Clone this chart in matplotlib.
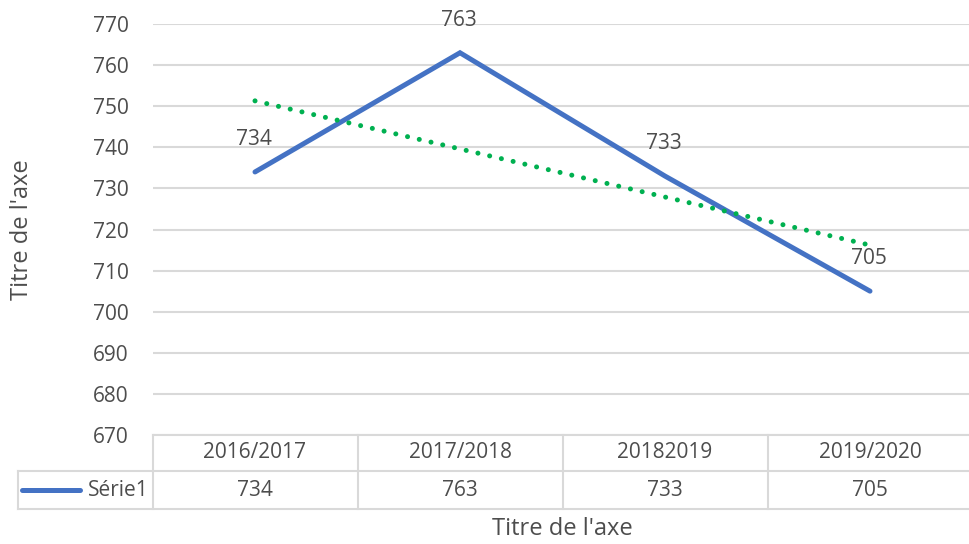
import numpy as np
import matplotlib
matplotlib.use("Agg")
import matplotlib.pyplot as plt
from matplotlib.lines import Line2D

plt.rcParams['font.family'] = ['Open Sans', 'DejaVu Sans']

categories = ["2016/2017", "2017/2018", "20182019", "2019/2020"]
values = [734, 763, 733, 705]
series_name = "Série1"
y_ticks = list(range(670, 771, 10))
axis_title = "Titre de l'axe"

W, H = 969, 544
fig = plt.figure(figsize=(W / 100, H / 100), dpi=100)
# plot area in pixels: x 152.5 -> 972.5, y 24 -> 435
ax = fig.add_axes([152.5 / W, (H - 435) / H, 820 / W, 411 / H])

x = np.arange(1, len(values) + 1)
TXT = '#4d4d4d'
GRID = '#D9D9D9'
FS = 15
FST = 17

ax.set_xlim(0.5, len(values) + 0.5)
ax.set_ylim(y_ticks[0], y_ticks[-1])
ax.set_yticks(y_ticks)
ax.yaxis.grid(True, color=GRID, linewidth=1.5)
ax.set_axisbelow(True)
ax.tick_params(axis='y', length=0, pad=17, labelsize=FS, labelcolor=TXT)
ax.set_xticks([])
for s in ax.spines.values():
    s.set_visible(False)

# series line
ax.plot(x, values, color='#4472C4', linewidth=3.6, solid_capstyle='round',
        solid_joinstyle='miter', zorder=3)

# linear trendline
coef = np.polyfit(x, values, 1)
tx = np.array([x[0], x[-1]])
ax.plot(tx, np.polyval(coef, tx), color='#00B050', linewidth=3.6,
        linestyle=(0, (0.01, 2.4)), dash_capstyle='round', zorder=4)

# data labels
for xi, v in zip(x, values):
    ax.annotate(str(v), (xi, v), xytext=(-1, 23.5), textcoords='offset points',
                ha='center', va='center', fontsize=FS, color=TXT, zorder=5)

# data table
px = 1 / 411.0  # axes fraction per pixel vertically
y_top = 0.0
y_mid = -36 * px
y_bot = -74 * px
x_left_lab = 0.5 - (152.5 - 18) / 205.0
trans = ax.get_xaxis_transform()
lk = dict(color=GRID, linewidth=1.5, transform=trans, clip_on=False)
ax.add_line(Line2D([0.5, len(values) + 0.5], [y_top, y_top], **lk))
ax.add_line(Line2D([x_left_lab, len(values) + 0.5], [y_mid, y_mid], **lk))
ax.add_line(Line2D([x_left_lab, len(values) + 0.5], [y_bot, y_bot], **lk))
ax.add_line(Line2D([x_left_lab, x_left_lab], [y_mid, y_bot], **lk))
for b in np.arange(0.5, len(values) + 1.0, 1.0):
    ax.add_line(Line2D([b, b], [y_top, y_bot], **lk))

for xi, c, v in zip(x, categories, values):
    ax.text(xi, (y_top + y_mid) / 2, c, transform=trans, ha='center', va='center',
            fontsize=FS, color=TXT)
    ax.text(xi, (y_mid + y_bot) / 2, str(v), transform=trans, ha='center', va='center',
            fontsize=FS, color=TXT)

# legend key in table
lx0 = x_left_lab + 4 / 205.0
lx1 = x_left_lab + 62 / 205.0
ym = (y_mid + y_bot) / 2
ax.add_line(Line2D([lx0, lx1], [ym, ym], color='#4472C4', linewidth=3.6,
                   solid_capstyle='round', transform=trans, clip_on=False))
ax.text(0.5 - 4 / 205.0, ym, series_name, transform=trans, ha='right', va='center',
        fontsize=FS, color=TXT)

# axis titles
fig.text(562 / W, (H - 529) / H, axis_title, ha='center', va='center',
         fontsize=FST, color=TXT)
fig.text(22 / W, (H - 230) / H, axis_title, ha='center', va='center',
         fontsize=FST, color=TXT, rotation=90)

fig.savefig('out.png', dpi=100)
